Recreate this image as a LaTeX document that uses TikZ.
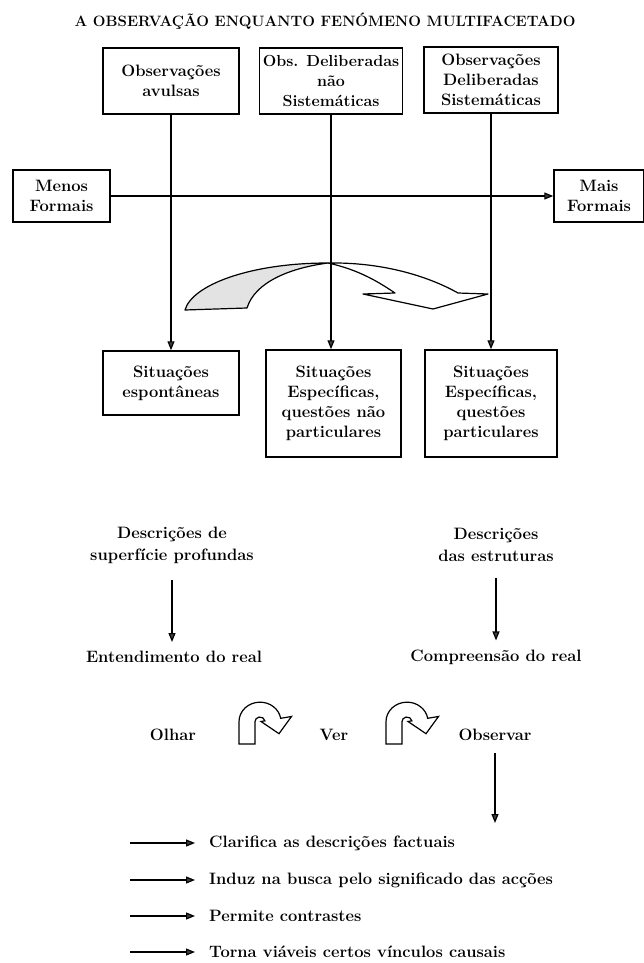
\documentclass[tikz,border=0pt]{standalone}
\usetikzlibrary{arrows.meta}
\begin{document}
\begin{tikzpicture}[x=1pt,y=-1pt,
  box/.style={draw, line width=1.5pt, align=center, inner sep=0pt,
    font=\fontsize{16.5}{20}\selectfont\bfseries},
  lbl/.style={align=center, inner sep=0pt, font=\fontsize{16.5}{22}\selectfont\bfseries},
  arr/.style={line width=1.2pt, -{Triangle[length=9pt,width=7pt,fill=black!75]}},
  uturn/.style={draw, line width=1.2pt, fill=white}
]
\useasboundingbox (0,0) rectangle (644,963);

% title
\node[lbl, font=\fontsize{15}{18}\selectfont\bfseries] (title) at (325,21)
  {A OBSERVAÇÃO ENQUANTO FENÓMENO MULTIFACETADO};

% top boxes
\node[box, minimum width=136pt, minimum height=66pt] (o1) at (171,81) {Observações\\avulsas};
\node[box, minimum width=143pt, minimum height=66pt, font=\fontsize{16}{20}\selectfont\bfseries] (o2) at (331,81) {Obs. Deliberadas\\não\\Sistemáticas};
\node[box, minimum width=134pt, minimum height=66pt] (o3) at (491,80) {Observações\\Deliberadas\\Sistemáticas};

% side boxes
\node[box, minimum width=97pt, minimum height=52pt] (menos) at (61.5,196) {Menos\\Formais};
\node[box, minimum width=90pt, minimum height=52pt] (mais) at (599,196) {Mais\\Formais};

% bottom boxes
\node[box, minimum width=136pt, minimum height=64pt] (s1) at (171,383) {Situações\\espontâneas};
\node[box, minimum width=135pt, minimum height=107pt] (s2) at (333.5,403.5) {Situações\\Específicas,\\questões não\\particulares};
\node[box, minimum width=132pt, minimum height=107pt] (s3) at (491,403.5) {Situações\\Específicas,\\questões\\particulares};

% ribbon arrow
\fill[gray!22] (185,310) .. controls (192,285) and (250,263) .. (328,263)
  .. controls (290,268) and (255,282) .. (247,308) -- cycle;
\draw[line width=1.2pt, line join=round] (185,310) .. controls (192,285) and (250,263) .. (328,263)
  .. controls (290,268) and (255,282) .. (247,308) -- cycle;
\draw[line width=1.2pt, line join=round, fill=white]
  (328,263) .. controls (390,262) and (435,280) .. (458,293)
  -- (488,294) -- (433,309) -- (363,294) -- (395,293)
  .. controls (380,283) and (360,270) .. (328,263) -- cycle;

% connectors
\draw[arr] (menos.east) -- (mais.west);
\draw[arr] (o1.south) -- (s1.north);
\draw[arr] (o2.south) -- (o2.south |- s2.north);
\draw[arr] (o3.south) -- (s3.north);

% lower section
\node[lbl] (d1) at (172,545) {Descrições de\\superfície profundas};
\node[lbl] (e1) at (174,657) {Entendimento do real};
\node[lbl] (d2) at (496,545) {Descrições\\das estruturas};
\node[lbl] (e2) at (496,657) {Compreensão do real};
\draw[arr, shorten <=16pt, shorten >=9pt] (d1.south) -- (d1.south |- e1.north);
\draw[arr, shorten <=16pt, shorten >=9pt] (d2.south) -- (e2.north);

\node[lbl] (olhar) at (173,735) {Olhar};
\node[lbl] (ver) at (334,735) {Ver};
\node[lbl] (observar) at (495,735) {Observar};

% u-turn icons
\foreach \ux in {239,386}{
  \begin{scope}[shift={(\ux,744)}, yscale=-0.93]
    \draw[uturn, line join=miter]
      (0,0) -- (0,24) arc[start angle=180, end angle=10, radius=21]
      -- (52.5,29.6) -- (40,11.1) -- (22,24.2) -- (25.9,24.9)
      arc[start angle=10, end angle=180, radius=5] -- (16,0) -- cycle;
  \end{scope}
}

\coordinate (obsend) at (495,823);
\draw[arr, shorten <=12pt] (observar.south) -- (obsend);

% list
\node[lbl, anchor=west] (t1) at (209,843) {Clarifica as descrições factuais};
\node[lbl, anchor=west] (t2) at (209,880) {Induz na busca pelo significado das acções};
\node[lbl, anchor=west] (t3) at (209,916) {Permite contrastes};
\node[lbl, anchor=west] (t4) at (209,952) {Torna viáveis certos vínculos causais};
\foreach \i/\yy in {1/843,2/880,3/916,4/952}{
  \coordinate (a\i) at (130,\yy);
  \draw[arr, shorten >=14pt] (a\i) -- (t\i.west);
}
\end{tikzpicture}
\end{document}
